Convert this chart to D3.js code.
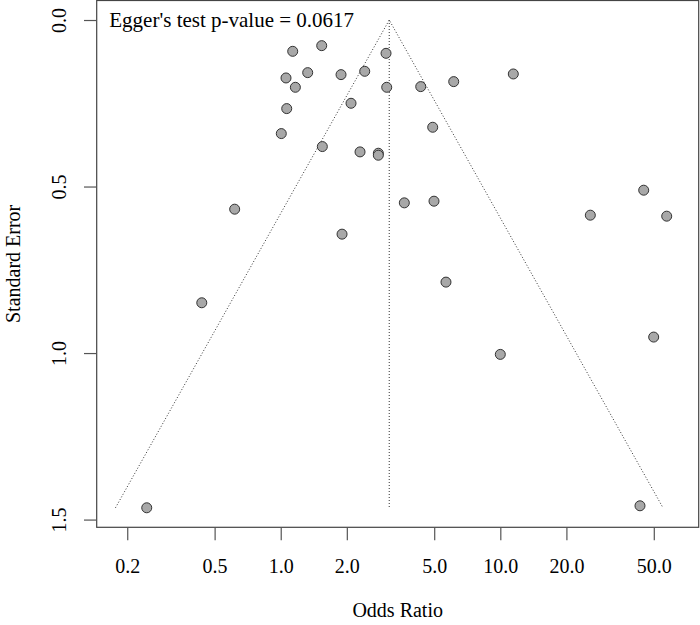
<!DOCTYPE html>
<html>
<head>
<meta charset="utf-8">
<script src="https://cdn.jsdelivr.net/npm/d3@7"></script>
<style>
  html, body { margin: 0; padding: 0; background: #fff; }
  svg { display: block; }
  text { font-family: "Liberation Serif", "Times New Roman", serif; fill: #000; }
</style>
</head>
<body>
<svg id="chart" width="700" height="625"></svg>
<script>
// ---- data ----
const oddsRatio = [1.134, 1.537, 3.017, 1.057, 1.327, 1.882, 2.413, 1.166, 3.039, 2.090,
                   1.065, 1.006, 1.547, 2.297, 2.783, 2.783, 11.46, 6.135, 4.341, 4.922,
                   3.655, 4.989, 0.617, 1.902, 5.657, 0.437, 44.98, 25.70, 57.25, 49.94,
                   10.0, 0.2454, 43.26];
const stdError = [0.094, 0.077, 0.100, 0.174, 0.158, 0.164, 0.154, 0.202, 0.202, 0.250,
                  0.266, 0.341, 0.380, 0.396, 0.400, 0.406, 0.162, 0.185, 0.200, 0.322,
                  0.549, 0.544, 0.568, 0.643, 0.787, 0.849, 0.511, 0.586, 0.589, 0.952,
                  1.004, 1.4646, 1.4586];
const pooledOR = 3.12;
const eggerP = "0.0617";
const xTickValues = [0.2, 0.5, 1.0, 2.0, 5.0, 10.0, 20.0, 50.0];
const yTickValues = [0.0, 0.5, 1.0, 1.5];
const xTitle = "Odds Ratio";
const yTitle = "Standard Error";

// ---- layout ----
const L = 96.7, R = 698.7, T = 0.5, B = 527.3;
const svg = d3.select("#chart");

const x = d3.scaleLog().domain([0.1452, 80.07]).range([L, R]);
const seMax = d3.max(stdError);
const yPad = seMax * 0.04;
const y = d3.scaleLinear().domain([-yPad, seMax + yPad]).range([T, B]);

// funnel
const z = 1.96;
const lnC = Math.log(pooledOR);
const funnel = [
  [Math.exp(lnC - z * seMax), seMax],
  [pooledOR, 0],
  [Math.exp(lnC + z * seMax), seMax]
];
const line = d3.line().x(d => x(d[0])).y(d => y(d[1]));
svg.append("path")
  .attr("d", line(funnel))
  .attr("fill", "none").attr("stroke", "#333").attr("stroke-width", 1)
  .attr("stroke-dasharray", "1,2");
svg.append("path")
  .attr("d", line([[pooledOR, 0], [pooledOR, seMax]]))
  .attr("fill", "none").attr("stroke", "#333").attr("stroke-width", 1)
  .attr("stroke-dasharray", "1,2");

// points
svg.append("g").selectAll("circle")
  .data(oddsRatio.map((o, i) => ({ o, s: stdError[i] })))
  .join("circle")
  .attr("cx", d => x(d.o))
  .attr("cy", d => y(d.s))
  .attr("r", 5)
  .attr("fill", "#a8a8a8")
  .attr("stroke", "#333")
  .attr("stroke-width", 1);

// box
svg.append("rect")
  .attr("x", L).attr("y", T).attr("width", R - L).attr("height", B - T)
  .attr("fill", "none").attr("stroke", "#444").attr("stroke-width", 1.2);

// x axis
const fmt = d3.format(".1f");
const gx = svg.append("g").attr("transform", `translate(0,${B})`)
  .call(d3.axisBottom(x).tickValues(xTickValues).tickFormat(fmt).tickSize(13));
gx.select(".domain").remove();
gx.selectAll(".tick line").attr("stroke", "#555").attr("stroke-width", 1.2);
gx.selectAll(".tick text")
  .attr("y", 45.7).attr("dy", null)
  .style("font-size", "20px")
  .style("font-family", "'Liberation Serif', serif")
  .attr("fill", "#000");

// y axis
const gy = svg.append("g").attr("transform", `translate(${L},0)`)
  .call(d3.axisLeft(y).tickValues(yTickValues).tickFormat(fmt).tickSize(12.7));
gy.select(".domain").remove();
gy.selectAll(".tick line").attr("stroke", "#555").attr("stroke-width", 1.2);
gy.selectAll(".tick text")
  .attr("x", null).attr("dy", null)
  .attr("text-anchor", "middle")
  .attr("transform", "translate(-31,0) rotate(-90)")
  .style("font-size", "20px")
  .style("font-family", "'Liberation Serif', serif")
  .attr("fill", "#000");

// titles
svg.append("text")
  .attr("x", (L + R) / 2 + 0).attr("y", 617)
  .attr("text-anchor", "middle")
  .style("font-size", "20px")
  .text(xTitle);
svg.append("text")
  .attr("transform", `translate(20,${(T + B) / 2}) rotate(-90)`)
  .attr("text-anchor", "middle")
  .style("font-size", "20px")
  .text(yTitle);

// Egger annotation
svg.append("text")
  .attr("x", 109.3).attr("y", 26.7)
  .style("font-size", "21px")
  .text("Egger's test p-value = " + eggerP);
</script>
</body>
</html>
